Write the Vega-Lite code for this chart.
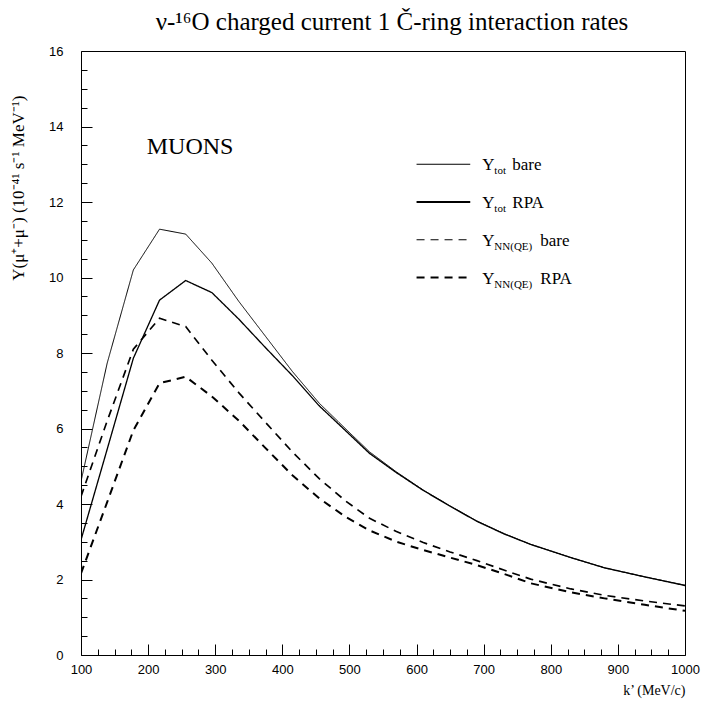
{
  "$schema": "https://vega.github.io/schema/vega-lite/v6.json",
  "width": 604,
  "height": 604,
  "autosize": {"type": "none"},
  "padding": {"left": 81, "top": 51, "right": 20, "bottom": 50},
  "background": "white",
  "config": {"view": {"stroke": "black", "strokeWidth": 1}, "font": "Liberation Serif"},
  "title": {"text": "ν-¹⁶O charged current 1 Č-ring interaction rates", "font": "Liberation Serif", "fontSize": 25, "fontWeight": "normal", "anchor": "middle", "frame": "group", "offset": 10, "dx": 9, "color": "black"},
  "resolve": {"scale": {"x": "shared", "y": "shared"}, "axis": {"x": "independent", "y": "independent"}},
  "layer": [
    {
      "data": {"values": [
        {"k": 100, "series": "tot_bare", "Y": 4.6},
        {"k": 139, "series": "tot_bare", "Y": 7.73},
        {"k": 178, "series": "tot_bare", "Y": 10.2},
        {"k": 217, "series": "tot_bare", "Y": 11.28},
        {"k": 256, "series": "tot_bare", "Y": 11.15},
        {"k": 295, "series": "tot_bare", "Y": 10.38},
        {"k": 335, "series": "tot_bare", "Y": 9.37},
        {"k": 375, "series": "tot_bare", "Y": 8.44},
        {"k": 415, "series": "tot_bare", "Y": 7.51},
        {"k": 455, "series": "tot_bare", "Y": 6.67},
        {"k": 495, "series": "tot_bare", "Y": 5.98},
        {"k": 530, "series": "tot_bare", "Y": 5.38},
        {"k": 570, "series": "tot_bare", "Y": 4.85},
        {"k": 610, "series": "tot_bare", "Y": 4.37},
        {"k": 650, "series": "tot_bare", "Y": 3.95},
        {"k": 690, "series": "tot_bare", "Y": 3.55},
        {"k": 730, "series": "tot_bare", "Y": 3.22},
        {"k": 770, "series": "tot_bare", "Y": 2.93},
        {"k": 830, "series": "tot_bare", "Y": 2.58},
        {"k": 880, "series": "tot_bare", "Y": 2.31},
        {"k": 940, "series": "tot_bare", "Y": 2.07},
        {"k": 1000, "series": "tot_bare", "Y": 1.85},
        {"k": 100, "series": "tot_rpa", "Y": 3.05},
        {"k": 139, "series": "tot_rpa", "Y": 5.45},
        {"k": 178, "series": "tot_rpa", "Y": 7.86},
        {"k": 217, "series": "tot_rpa", "Y": 9.4},
        {"k": 256, "series": "tot_rpa", "Y": 9.92},
        {"k": 295, "series": "tot_rpa", "Y": 9.6},
        {"k": 335, "series": "tot_rpa", "Y": 8.9},
        {"k": 375, "series": "tot_rpa", "Y": 8.14},
        {"k": 415, "series": "tot_rpa", "Y": 7.4},
        {"k": 455, "series": "tot_rpa", "Y": 6.6},
        {"k": 495, "series": "tot_rpa", "Y": 5.93},
        {"k": 530, "series": "tot_rpa", "Y": 5.34},
        {"k": 570, "series": "tot_rpa", "Y": 4.83},
        {"k": 610, "series": "tot_rpa", "Y": 4.36},
        {"k": 650, "series": "tot_rpa", "Y": 3.94},
        {"k": 690, "series": "tot_rpa", "Y": 3.54},
        {"k": 730, "series": "tot_rpa", "Y": 3.21},
        {"k": 770, "series": "tot_rpa", "Y": 2.93},
        {"k": 830, "series": "tot_rpa", "Y": 2.58},
        {"k": 880, "series": "tot_rpa", "Y": 2.31},
        {"k": 940, "series": "tot_rpa", "Y": 2.07},
        {"k": 1000, "series": "tot_rpa", "Y": 1.84},
        {"k": 100, "series": "nn_bare", "Y": 4.2},
        {"k": 139, "series": "nn_bare", "Y": 6.2},
        {"k": 178, "series": "nn_bare", "Y": 8.1},
        {"k": 217, "series": "nn_bare", "Y": 8.92},
        {"k": 256, "series": "nn_bare", "Y": 8.7},
        {"k": 295, "series": "nn_bare", "Y": 7.81},
        {"k": 335, "series": "nn_bare", "Y": 6.95},
        {"k": 375, "series": "nn_bare", "Y": 6.16},
        {"k": 415, "series": "nn_bare", "Y": 5.38},
        {"k": 455, "series": "nn_bare", "Y": 4.67},
        {"k": 495, "series": "nn_bare", "Y": 4.07},
        {"k": 530, "series": "nn_bare", "Y": 3.62},
        {"k": 570, "series": "nn_bare", "Y": 3.27},
        {"k": 610, "series": "nn_bare", "Y": 2.98},
        {"k": 650, "series": "nn_bare", "Y": 2.73},
        {"k": 690, "series": "nn_bare", "Y": 2.5},
        {"k": 730, "series": "nn_bare", "Y": 2.25},
        {"k": 770, "series": "nn_bare", "Y": 2.01},
        {"k": 830, "series": "nn_bare", "Y": 1.75},
        {"k": 880, "series": "nn_bare", "Y": 1.58},
        {"k": 940, "series": "nn_bare", "Y": 1.43},
        {"k": 1000, "series": "nn_bare", "Y": 1.3},
        {"k": 100, "series": "nn_rpa", "Y": 2.16},
        {"k": 139, "series": "nn_rpa", "Y": 4.05},
        {"k": 178, "series": "nn_rpa", "Y": 5.95},
        {"k": 217, "series": "nn_rpa", "Y": 7.2},
        {"k": 256, "series": "nn_rpa", "Y": 7.37},
        {"k": 295, "series": "nn_rpa", "Y": 6.85},
        {"k": 335, "series": "nn_rpa", "Y": 6.21},
        {"k": 375, "series": "nn_rpa", "Y": 5.48},
        {"k": 415, "series": "nn_rpa", "Y": 4.76},
        {"k": 455, "series": "nn_rpa", "Y": 4.15},
        {"k": 495, "series": "nn_rpa", "Y": 3.65},
        {"k": 530, "series": "nn_rpa", "Y": 3.3},
        {"k": 570, "series": "nn_rpa", "Y": 3.0},
        {"k": 610, "series": "nn_rpa", "Y": 2.78},
        {"k": 650, "series": "nn_rpa", "Y": 2.58},
        {"k": 690, "series": "nn_rpa", "Y": 2.38},
        {"k": 730, "series": "nn_rpa", "Y": 2.15},
        {"k": 770, "series": "nn_rpa", "Y": 1.9},
        {"k": 830, "series": "nn_rpa", "Y": 1.66},
        {"k": 880, "series": "nn_rpa", "Y": 1.5},
        {"k": 940, "series": "nn_rpa", "Y": 1.33},
        {"k": 1000, "series": "nn_rpa", "Y": 1.17}
      ]},
      "mark": {"type": "line", "color": "black", "clip": true},
      "encoding": {
        "x": {"field": "k", "type": "quantitative",
          "scale": {"domain": [100, 1000], "nice": false, "zero": false},
          "axis": {
            "orient": "bottom",
            "values": [100, 200, 300, 400, 500, 600, 700, 800, 900, 1000],
            "format": "d",
            "tickSize": -11, "tickWidth": 1, "tickColor": "black",
            "labelPadding": 19,
            "labelFont": "Liberation Sans", "labelFontSize": 13, "labelColor": "black",
            "labelFlush": false, "labelOverlap": false,
            "domain": false, "grid": false,
            "title": "k’ (MeV/c)", "titleFont": "Liberation Serif", "titleFontSize": 14, "titleFontWeight": "normal", "titleColor": "black",
            "titleAnchor": "end", "titleAlign": "right", "titleX": 604, "titleY": 39, "titleBaseline": "alphabetic"
          }},
        "y": {"field": "Y", "type": "quantitative",
          "scale": {"domain": [0, 16], "nice": false},
          "axis": {
            "orient": "left",
            "values": [0, 2, 4, 6, 8, 10, 12, 14, 16],
            "tickSize": -11, "tickWidth": 1, "tickColor": "black",
            "labelPadding": 29,
            "labelFont": "Liberation Sans", "labelFontSize": 13, "labelColor": "black",
            "labelFlush": false, "labelOverlap": false,
            "domain": false, "grid": false,
            "title": "Y(μ⁺+μ⁻) (10⁻⁴¹ s⁻¹ MeV⁻¹)", "titleFont": "Liberation Serif", "titleFontSize": 17, "titleFontWeight": "normal", "titleColor": "black",
            "titleAngle": -90, "titleAnchor": "end", "titleAlign": "right", "titleBaseline": "middle", "titleX": -63, "titleY": 44
          }},
        "detail": {"field": "series"},
        "strokeWidth": {"field": "series", "type": "nominal", "scale": {"domain": ["tot_bare", "tot_rpa", "nn_bare", "nn_rpa"], "range": [1, 2, 1, 2]}, "legend": null},
        "strokeDash": {"field": "series", "type": "nominal", "scale": {"domain": ["tot_bare", "tot_rpa", "nn_bare", "nn_rpa"], "range": [[1, 0], [1, 0], [8, 6], [8, 6]]}, "legend": null}
      }
    },
    {
      "data": {"values": [{}]},
      "mark": {"type": "text", "text": "MUONS", "font": "Liberation Serif", "fontSize": 24, "align": "left", "baseline": "middle", "color": "black"},
      "encoding": {
        "x": {"datum": 198, "type": "quantitative",
          "axis": {"orient": "bottom", "values": [125,150,175,225,250,275,325,350,375,425,450,475,525,550,575,625,650,675,725,750,775,825,850,875,925,950,975],
            "labels": false, "tickSize": -6, "tickWidth": 1, "tickColor": "black", "domain": false, "grid": false, "title": null}},
        "y": {"datum": 13.45, "type": "quantitative",
          "axis": {"orient": "left", "values": [0.5,1,1.5,2.5,3,3.5,4.5,5,5.5,6.5,7,7.5,8.5,9,9.5,10.5,11,11.5,12.5,13,13.5,14.5,15,15.5],
            "labels": false, "tickSize": -6, "tickWidth": 1, "tickColor": "black", "domain": false, "grid": false, "title": null}}
      }
    },

    {"data": {"values": [{}]}, "mark": {"type": "rule", "color": "black", "strokeWidth": 1}, "encoding": {"x": {"datum": 600, "axis": null}, "x2": {"datum": 680}, "y": {"datum": 13, "axis": null}}},
    {"data": {"values": [{}]}, "mark": {"type": "rule", "color": "black", "strokeWidth": 2}, "encoding": {"x": {"datum": 600, "axis": null}, "x2": {"datum": 680}, "y": {"datum": 12, "axis": null}}},
    {"data": {"values": [{}]}, "mark": {"type": "rule", "color": "black", "strokeWidth": 1, "strokeDash": [8, 6]}, "encoding": {"x": {"datum": 600, "axis": null}, "x2": {"datum": 680}, "y": {"datum": 11, "axis": null}}},
    {"data": {"values": [{}]}, "mark": {"type": "rule", "color": "black", "strokeWidth": 2, "strokeDash": [8, 6]}, "encoding": {"x": {"datum": 600, "axis": null}, "x2": {"datum": 680}, "y": {"datum": 10, "axis": null}}},

    {"data": {"values": [{}]}, "mark": {"type": "text", "text": "Y", "font": "Liberation Serif", "fontSize": 17, "align": "left", "baseline": "alphabetic", "dy": 6, "color": "black"}, "encoding": {"x": {"datum": 698, "axis": null}, "y": {"datum": 13, "axis": null}}},
    {"data": {"values": [{}]}, "mark": {"type": "text", "text": "tot", "font": "Liberation Serif", "fontSize": 11, "align": "left", "baseline": "alphabetic", "dx": 12, "dy": 10, "color": "black"}, "encoding": {"x": {"datum": 698, "axis": null}, "y": {"datum": 13, "axis": null}}},
    {"data": {"values": [{}]}, "mark": {"type": "text", "text": "bare", "font": "Liberation Serif", "fontSize": 17, "align": "left", "baseline": "alphabetic", "dx": 30, "dy": 6, "color": "black"}, "encoding": {"x": {"datum": 698, "axis": null}, "y": {"datum": 13, "axis": null}}},

    {"data": {"values": [{}]}, "mark": {"type": "text", "text": "Y", "font": "Liberation Serif", "fontSize": 17, "align": "left", "baseline": "alphabetic", "dy": 6, "color": "black"}, "encoding": {"x": {"datum": 698, "axis": null}, "y": {"datum": 12, "axis": null}}},
    {"data": {"values": [{}]}, "mark": {"type": "text", "text": "tot", "font": "Liberation Serif", "fontSize": 11, "align": "left", "baseline": "alphabetic", "dx": 12, "dy": 10, "color": "black"}, "encoding": {"x": {"datum": 698, "axis": null}, "y": {"datum": 12, "axis": null}}},
    {"data": {"values": [{}]}, "mark": {"type": "text", "text": "RPA", "font": "Liberation Serif", "fontSize": 17, "align": "left", "baseline": "alphabetic", "dx": 30, "dy": 6, "color": "black"}, "encoding": {"x": {"datum": 698, "axis": null}, "y": {"datum": 12, "axis": null}}},

    {"data": {"values": [{}]}, "mark": {"type": "text", "text": "Y", "font": "Liberation Serif", "fontSize": 17, "align": "left", "baseline": "alphabetic", "dy": 6, "color": "black"}, "encoding": {"x": {"datum": 698, "axis": null}, "y": {"datum": 11, "axis": null}}},
    {"data": {"values": [{}]}, "mark": {"type": "text", "text": "NN(QE)", "font": "Liberation Serif", "fontSize": 11, "align": "left", "baseline": "alphabetic", "dx": 12, "dy": 10, "color": "black"}, "encoding": {"x": {"datum": 698, "axis": null}, "y": {"datum": 11, "axis": null}}},
    {"data": {"values": [{}]}, "mark": {"type": "text", "text": "bare", "font": "Liberation Serif", "fontSize": 17, "align": "left", "baseline": "alphabetic", "dx": 58, "dy": 6, "color": "black"}, "encoding": {"x": {"datum": 698, "axis": null}, "y": {"datum": 11, "axis": null}}},

    {"data": {"values": [{}]}, "mark": {"type": "text", "text": "Y", "font": "Liberation Serif", "fontSize": 17, "align": "left", "baseline": "alphabetic", "dy": 6, "color": "black"}, "encoding": {"x": {"datum": 698, "axis": null}, "y": {"datum": 10, "axis": null}}},
    {"data": {"values": [{}]}, "mark": {"type": "text", "text": "NN(QE)", "font": "Liberation Serif", "fontSize": 11, "align": "left", "baseline": "alphabetic", "dx": 12, "dy": 10, "color": "black"}, "encoding": {"x": {"datum": 698, "axis": null}, "y": {"datum": 10, "axis": null}}},
    {"data": {"values": [{}]}, "mark": {"type": "text", "text": "RPA", "font": "Liberation Serif", "fontSize": 17, "align": "left", "baseline": "alphabetic", "dx": 58, "dy": 6, "color": "black"}, "encoding": {"x": {"datum": 698, "axis": null}, "y": {"datum": 10, "axis": null}}}
  ]
}
